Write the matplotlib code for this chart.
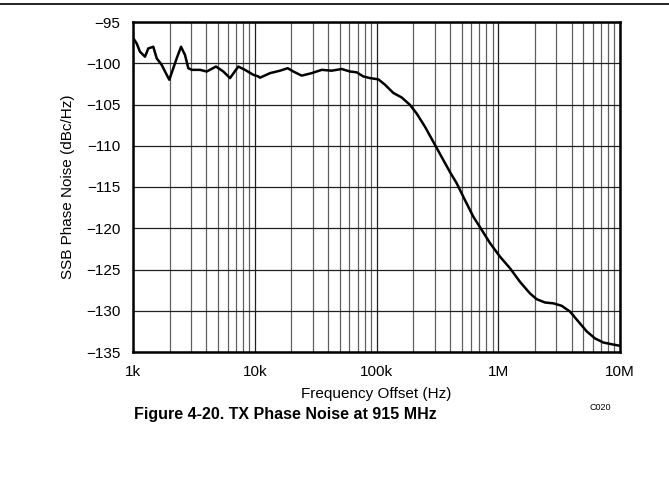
import numpy as np
import matplotlib
matplotlib.use("Agg")
import matplotlib.pyplot as plt
from matplotlib.lines import Line2D

plt.rcParams['font.family'] = ['Liberation Sans', 'DejaVu Sans']

freq_hz = [1000, 1072, 1141, 1255, 1336, 1468, 1565, 1721, 1832, 1987, 2143, 2285,
           2480, 2674, 2846, 3035, 3550, 4030, 4805, 5515, 6262, 7325, 8316, 9730,
           10700, 11045, 13350, 16120, 18650, 20730, 24300, 29360, 35470, 42860,
           51790, 60570, 68780, 77930, 88400, 103500, 117400, 137400, 161100,
           188400, 213900, 250200, 302400, 365300, 401600, 455700, 533400, 624100,
           731500, 855400, 1034000, 1249000, 1509000, 1823000, 2069000, 2421000,
           2833000, 3320000, 3884000, 4545000, 5327000, 6233000, 7293000, 8811000,
           10000000]
noise_dbc = [-96.9, -97.6, -98.6, -99.2, -98.2, -98.0, -99.4, -100.2, -101.0, -102.0,
             -100.6, -99.4, -98.0, -99.0, -100.6, -100.8, -100.8, -101.0, -100.4,
             -101.0, -101.8, -100.4, -100.8, -101.4, -101.6, -101.75, -101.2, -100.9,
             -100.6, -101.0, -101.5, -101.2, -100.8, -100.9, -100.7, -101.0, -101.1,
             -101.6, -101.8, -101.95, -102.6, -103.6, -104.15, -105.05, -106.1,
             -107.7, -109.9, -112.1, -113.2, -114.55, -116.6, -118.6, -120.2, -121.8,
             -123.45, -124.85, -126.5, -127.9, -128.6, -129.0, -129.1, -129.4, -130.1,
             -131.3, -132.5, -133.35, -133.85, -134.1, -134.25]

y_ticks = [-135, -130, -125, -120, -115, -110, -105, -100, -95]
x_ticks = [1e3, 1e4, 1e5, 1e6, 1e7]
x_tick_labels = ['1k', '10k', '100k', '1M', '10M']

fig = plt.figure(figsize=(6.69, 5.0), dpi=100)
ax = fig.add_axes([133/669, 1-352/500, (620-133)/669, 330/500])

ax.semilogx(freq_hz, noise_dbc, color='black', lw=1.8, zorder=3,
            solid_joinstyle='round', solid_capstyle='round')
ax.set_xlim(1e3, 1e7)
ax.set_ylim(-135, -95)
ax.set_yticks(y_ticks)
ax.set_yticklabels([f"\u2212{abs(v)}" for v in y_ticks])
ax.set_xticks(x_ticks)
ax.set_xticklabels(x_tick_labels)
ax.xaxis.set_minor_locator(matplotlib.ticker.LogLocator(base=10, subs=np.arange(2, 10)))
ax.xaxis.set_minor_formatter(matplotlib.ticker.NullFormatter())
ax.tick_params(axis='both', which='both', length=0, labelsize=11, pad=9)
ax.grid(True, which='major', color='#202020', lw=0.9)
ax.grid(True, which='minor', axis='x', color='#606060', lw=0.9)
for s in ax.spines.values():
    s.set_linewidth(1.8)
    s.set_color('black')

ax.set_xlabel('Frequency Offset (Hz)', fontsize=11, labelpad=6)
ax.set_ylabel('SSB Phase Noise (dBc/Hz)', fontsize=11, labelpad=8)

fig.text(285/669, 1-415/500, 'Figure 4-20. TX Phase Noise at 915 MHz', fontsize=11.5,
         fontweight='bold', ha='center', va='center')
fig.text(600/669, 1-407/500, 'C020', fontsize=6.5, ha='center', va='center')
fig.add_artist(Line2D([0, 1], [1-4/500, 1-4/500], color='black', lw=1.2,
                      transform=fig.transFigure))

fig.savefig('out.png', dpi=100)
